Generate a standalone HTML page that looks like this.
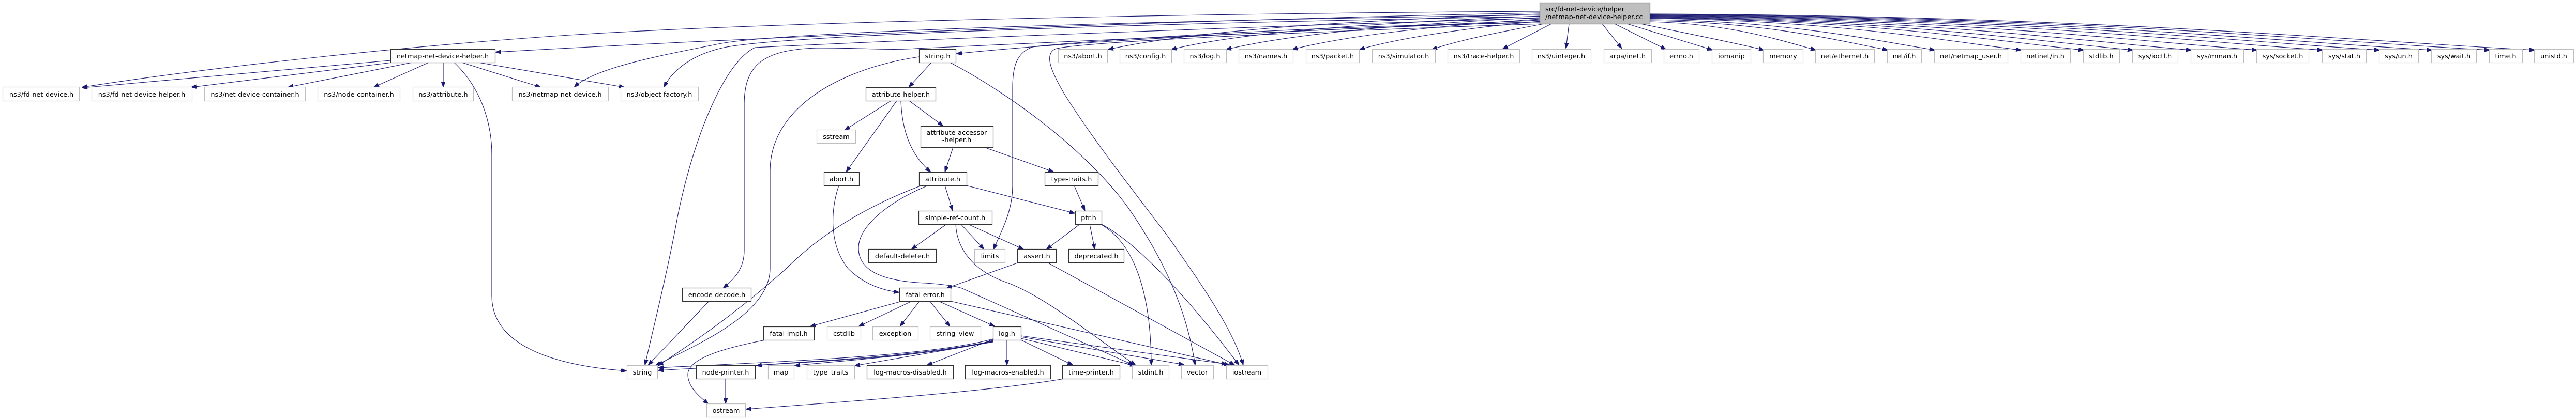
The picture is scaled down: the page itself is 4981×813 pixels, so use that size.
<!DOCTYPE html>
<html>
<head>
<meta charset="utf-8">
<style>
html,body{margin:0;padding:0;background:#fff;}
body{width:4981px;height:813px;overflow:hidden;}
svg{display:block;}
text{font-family:"DejaVu Sans","Liberation Sans",sans-serif;font-size:12.8px;fill:#000;}
.e{fill:none;stroke:#191970;stroke-width:1.1;marker-end:url(#a);}
.b{fill:#fff;stroke:#333;stroke-width:1.2;}
.g{fill:#fff;stroke:#bfbfbf;stroke-width:1.2;}
</style>
</head>
<body>
<svg width="4981" height="813" viewBox="0 0 4981 813" xmlns="http://www.w3.org/2000/svg">
<defs>
<marker id="a" viewBox="0 0 11 8" refX="11" refY="4" markerWidth="11" markerHeight="8" markerUnits="userSpaceOnUse" orient="auto">
<path d="M0,0L11,4L0,8z" fill="#191970" stroke="#191970" stroke-width="0.8"/>
</marker>
</defs>
<rect width="4981" height="813" fill="#fff"/>

<!-- ===== edges from root (left side) ===== -->
<path class="e" d="M2977,22 C2300,26 1500,42 1100,68 C800,88 420,128 158,169"/>
<path class="e" d="M2977,25 C2300,38 1500,70 958,101"/>
<path class="e" d="M2977,29 C2200,40 1500,62 1390,85 C1290,105 1150,130 1110,169"/>
<path class="e" d="M2977,32 C2200,45 1520,68 1400,92 C1340,105 1300,135 1284,169"/>
<path class="e" d="M2977,35 C2300,55 1700,80 1460,92 C1400,120 1340,270 1310,420 C1290,530 1262,640 1247,707"/>
<path class="e" d="M2977,39 C2400,62 1950,88 1770,94 C1720,98 1650,92 1580,93 C1470,96 1440,130 1439,200 L1439,485 C1439,520 1420,540 1398,558"/>
<path class="e" d="M2977,42 C2500,58 2100,78 1849,104"/>
<path class="e" d="M2977,44 C2500,50 2100,80 2000,90 C1965,100 1958,130 1958,170 L1958,360 C1958,410 1935,450 1921,483"/>
<path class="e" d="M2985,46 C2500,62 2080,82 2040,95 C2020,105 2030,135 2060,185 C2120,280 2200,380 2260,460 C2330,560 2385,640 2404,707"/>
<path class="e" d="M2977,27 C2600,40 2300,60 2142,96"/>
<path class="e" d="M2977,31 C2650,45 2400,62 2264,96"/>
<path class="e" d="M2977,34 C2700,48 2500,65 2370,96"/>
<path class="e" d="M2977,37 C2750,52 2600,70 2498,96"/>
<path class="e" d="M2977,41 C2820,56 2700,75 2628,96"/>
<path class="e" d="M2986,46 C2900,62 2820,78 2768,96"/>
<path class="e" d="M3000,46 L2905,95"/>
<path class="e" d="M3034,46 L3028,94"/>
<path class="e" d="M3098,46 L3136,94"/>
<path class="e" d="M3122,46 L3222,96"/>
<path class="e" d="M3146,46 L3312,97"/>
<path class="e" d="M3172,46 C3250,62 3340,80 3412,97"/>
<!-- right side -->
<path class="e" d="M3190,42 C3351,46 3448,80 3512,97"/>
<path class="e" d="M3190,40 C3420,43 3559,80 3651,97"/>
<path class="e" d="M3190,38 C3466,41 3632,80 3742,97"/>
<path class="e" d="M3190,36 C3549,39 3765,80 3909,97"/>
<path class="e" d="M3190,35 C3610,38 3862,80 4030,97"/>
<path class="e" d="M3190,34 C3657,37 3938,80 4125,97"/>
<path class="e" d="M3190,33 C3714,36 4028,80 4238,97"/>
<path class="e" d="M3190,32 C3777,35 4130,80 4365,97"/>
<path class="e" d="M3190,31 C3841,34 4232,80 4492,97"/>
<path class="e" d="M3190,30 C3896,33 4320,80 4602,97"/>
<path class="e" d="M3190,29 C3946,32 4400,80 4703,97"/>
<path class="e" d="M3190,28 C4002,31 4490,80 4815,97"/>
<path class="e" d="M3190,27 C4046,30 4560,80 4902,97"/>

<!-- ===== netmap-net-device-helper.h edges ===== -->
<path class="e" d="M755,117 L158,170"/>
<path class="e" d="M758,121 L369,169"/>
<path class="e" d="M797,121 L556,169"/>
<path class="e" d="M829,121 L722,169"/>
<path class="e" d="M857,121 L857,169"/>
<path class="e" d="M893,121 L1046,169"/>
<path class="e" d="M925,121 L1208,169"/>
<path class="e" d="M878,121 C925,165 951,230 951,300 L951,573 C951,680 1100,710 1212,718"/>

<!-- ===== string.h edges ===== -->
<path class="e" d="M1801,121 L1757,169"/>
<path class="e" d="M1777,110 C1640,130 1490,200 1489,330 L1489,520 C1489,610 1340,670 1267,708"/>
<path class="e" d="M1837,121 C1950,180 2100,290 2180,400 C2250,500 2295,600 2311,707"/>

<!-- attribute-helper.h -->
<path class="e" d="M1723,195 L1633,252"/>
<path class="e" d="M1734,195 L1636,333"/>
<path class="e" d="M1742,195 C1744,250 1760,300 1800,333"/>
<path class="e" d="M1758,195 L1824,244"/>

<!-- attribute-accessor-helper.h -->
<path class="e" d="M1843,285 L1827,333"/>
<path class="e" d="M1903,285 L2038,333"/>

<!-- abort.h -->
<path class="e" d="M1622,359 C1608,400 1600,470 1640,520 C1670,550 1705,562 1739,566"/>

<!-- attribute.h -->
<path class="e" d="M1782,359 C1700,390 1600,440 1520,520 C1420,610 1330,670 1272,708"/>
<path class="e" d="M1795,359 C1740,380 1660,430 1660,480 C1660,530 1720,545 1790,548 C1820,550 1845,553 1860,558 L2192,707"/>
<path class="e" d="M1827,359 L1842,408"/>
<path class="e" d="M1868,359 L2079,413"/>

<!-- type-traits.h -->
<path class="e" d="M2077,359 L2098,408"/>

<!-- simple-ref-count.h -->
<path class="e" d="M1830,434 L1762,483"/>
<path class="e" d="M1858,434 L1903,483"/>
<path class="e" d="M1872,434 L1980,483"/>
<path class="e" d="M1848,434 C1850,480 1880,525 1950,548 C2020,575 2100,640 2196,707"/>

<!-- ptr.h -->
<path class="e" d="M2088,434 L2023,483"/>
<path class="e" d="M2107,434 L2117,483"/>
<path class="e" d="M2130,435 C2190,470 2226,560 2226,707"/>
<path class="e" d="M2128,433 C2200,470 2300,580 2396,707"/>

<!-- assert.h -->
<path class="e" d="M1970,508 L1830,558"/>
<path class="e" d="M2025,508 L2388,707"/>

<!-- encode-decode.h -->
<path class="e" d="M1370,584 L1253,707"/>

<!-- fatal-error.h -->
<path class="e" d="M1744,583 L1566,632"/>
<path class="e" d="M1763,583 L1660,632"/>
<path class="e" d="M1778,583 L1740,632"/>
<path class="e" d="M1798,583 L1837,632"/>
<path class="e" d="M1815,583 L1924,632"/>
<path class="e" d="M1838,583 L2378,707"/>

<!-- fatal-impl.h -->
<path class="e" d="M1480,658 C1420,670 1330,690 1330,725 C1330,750 1355,770 1370,782"/>

<!-- log.h -->
<path class="e" d="M1920,656 C1800,690 1500,700 1272,712"/>
<path class="e" d="M1920,659 C1790,695 1480,705 1272,717"/>
<path class="e" d="M1920,660 C1750,695 1520,700 1462,708"/>
<path class="e" d="M1920,661 C1780,690 1600,700 1536,708"/>
<path class="e" d="M1920,662 L1652,708"/>
<path class="e" d="M1920,657 L1792,707"/>
<path class="e" d="M1947,658 L1947,707"/>
<path class="e" d="M1974,658 L2075,707"/>
<path class="e" d="M1974,655 L2196,708"/>
<path class="e" d="M1974,652 L2290,706"/>
<path class="e" d="M1974,650 L2373,705"/>

<!-- printers -->
<path class="e" d="M1403,733 L1403,782"/>
<path class="e" d="M2058,733 C1900,760 1600,780 1442,792"/>

<!-- ===== nodes ===== -->
<!-- root -->
<rect x="2977.5" y="5.5" width="213" height="41" fill="#bfbfbf" stroke="#404040" stroke-width="1.2"/>
<text x="2988" y="22">src/fd-net-device/helper</text>
<text x="2988" y="37">/netmap-net-device-helper.cc</text>

<!-- rank 1 -->
<rect class="b" x="755.5" y="95.5" width="202" height="26"/><text x="856" y="113" text-anchor="middle">netmap-net-device-helper.h</text>
<rect class="b" x="1777.5" y="95.5" width="71" height="26"/><text x="1813" y="113" text-anchor="middle">string.h</text>
<rect class="g" x="2046.5" y="95.5" width="95" height="26"/><text x="2094" y="113" text-anchor="middle">ns3/abort.h</text>
<rect class="g" x="2165.5" y="95.5" width="100" height="26"/><text x="2215" y="113" text-anchor="middle">ns3/config.h</text>
<rect class="g" x="2289.5" y="95.5" width="82" height="26"/><text x="2330" y="113" text-anchor="middle">ns3/log.h</text>
<rect class="g" x="2395.5" y="95.5" width="105" height="26"/><text x="2448" y="113" text-anchor="middle">ns3/names.h</text>
<rect class="g" x="2525.5" y="95.5" width="103" height="26"/><text x="2577" y="113" text-anchor="middle">ns3/packet.h</text>
<rect class="g" x="2653.5" y="95.5" width="122" height="26"/><text x="2714" y="113" text-anchor="middle">ns3/simulator.h</text>
<rect class="g" x="2799.5" y="95.5" width="139" height="26"/><text x="2869" y="113" text-anchor="middle">ns3/trace-helper.h</text>
<rect class="g" x="2962.5" y="95.5" width="114" height="26"/><text x="3019" y="113" text-anchor="middle">ns3/uinteger.h</text>
<rect class="g" x="3101.5" y="95.5" width="92" height="26"/><text x="3147" y="113" text-anchor="middle">arpa/inet.h</text>
<rect class="g" x="3217.5" y="95.5" width="68" height="26"/><text x="3251" y="113" text-anchor="middle">errno.h</text>
<rect class="g" x="3310.5" y="95.5" width="75" height="26"/><text x="3348" y="113" text-anchor="middle">iomanip</text>
<rect class="g" x="3409.5" y="95.5" width="77" height="26"/><text x="3448" y="113" text-anchor="middle">memory</text>
<rect class="g" x="3510.5" y="95.5" width="114" height="26"/><text x="3567" y="113" text-anchor="middle">net/ethernet.h</text>
<rect class="g" x="3649.5" y="95.5" width="66" height="26"/><text x="3682" y="113" text-anchor="middle">net/if.h</text>
<rect class="g" x="3740.5" y="95.5" width="142" height="26"/><text x="3811" y="113" text-anchor="middle">net/netmap_user.h</text>
<rect class="g" x="3907.5" y="95.5" width="96" height="26"/><text x="3955" y="113" text-anchor="middle">netinet/in.h</text>
<rect class="g" x="4028.5" y="95.5" width="70" height="26"/><text x="4063" y="113" text-anchor="middle">stdlib.h</text>
<rect class="g" x="4123.5" y="95.5" width="88" height="26"/><text x="4167" y="113" text-anchor="middle">sys/ioctl.h</text>
<rect class="g" x="4236.5" y="95.5" width="102" height="26"/><text x="4287" y="113" text-anchor="middle">sys/mman.h</text>
<rect class="g" x="4363.5" y="95.5" width="101" height="26"/><text x="4414" y="113" text-anchor="middle">sys/socket.h</text>
<rect class="g" x="4490.5" y="95.5" width="85" height="26"/><text x="4533" y="113" text-anchor="middle">sys/stat.h</text>
<rect class="g" x="4600.5" y="95.5" width="76" height="26"/><text x="4638" y="113" text-anchor="middle">sys/un.h</text>
<rect class="g" x="4701.5" y="95.5" width="87" height="26"/><text x="4745" y="113" text-anchor="middle">sys/wait.h</text>
<rect class="g" x="4813.5" y="95.5" width="64" height="26"/><text x="4845" y="113" text-anchor="middle">time.h</text>
<rect class="g" x="4900.5" y="95.5" width="76" height="26"/><text x="4938" y="113" text-anchor="middle">unistd.h</text>

<!-- rank 2 -->
<rect class="g" x="5.5" y="168.5" width="148" height="27"/><text x="80" y="187" text-anchor="middle">ns3/fd-net-device.h</text>
<rect class="g" x="177.5" y="168.5" width="194" height="27"/><text x="274" y="187" text-anchor="middle">ns3/fd-net-device-helper.h</text>
<rect class="g" x="395.5" y="168.5" width="195" height="27"/><text x="493" y="187" text-anchor="middle">ns3/net-device-container.h</text>
<rect class="g" x="614.5" y="168.5" width="159" height="27"/><text x="694" y="187" text-anchor="middle">ns3/node-container.h</text>
<rect class="g" x="798.5" y="168.5" width="117" height="27"/><text x="857" y="187" text-anchor="middle">ns3/attribute.h</text>
<rect class="g" x="990.5" y="168.5" width="186" height="27"/><text x="1083" y="187" text-anchor="middle">ns3/netmap-net-device.h</text>
<rect class="g" x="1200.5" y="168.5" width="150" height="27"/><text x="1275" y="187" text-anchor="middle">ns3/object-factory.h</text>
<rect class="b" x="1674.5" y="169.5" width="135" height="26"/><text x="1742" y="187" text-anchor="middle">attribute-helper.h</text>

<!-- rank 3 -->
<rect class="g" x="1579.5" y="251.5" width="75" height="26"/><text x="1617" y="269" text-anchor="middle">sstream</text>
<rect class="b" x="1780.5" y="244.5" width="140" height="41"/>
<text x="1850" y="261" text-anchor="middle">attribute-accessor</text>
<text x="1850" y="275" text-anchor="middle">-helper.h</text>

<!-- rank 4 -->
<rect class="b" x="1593.5" y="333.5" width="68" height="26"/><text x="1627" y="351" text-anchor="middle">abort.h</text>
<rect class="b" x="1777.5" y="333.5" width="92" height="26"/><text x="1823" y="351" text-anchor="middle">attribute.h</text>
<rect class="b" x="2020.5" y="333.5" width="103" height="26"/><text x="2072" y="351" text-anchor="middle">type-traits.h</text>

<!-- rank 5 -->
<rect class="b" x="1776.5" y="408.5" width="142" height="26"/><text x="1847" y="426" text-anchor="middle">simple-ref-count.h</text>
<rect class="b" x="2079.5" y="408.5" width="51" height="26"/><text x="2105" y="426" text-anchor="middle">ptr.h</text>

<!-- rank 6 -->
<rect class="b" x="1679.5" y="482.5" width="131" height="26"/><text x="1745" y="500" text-anchor="middle">default-deleter.h</text>
<rect class="g" x="1884.5" y="482.5" width="59" height="26"/><text x="1914" y="500" text-anchor="middle">limits</text>
<rect class="b" x="1967.5" y="482.5" width="75" height="26"/><text x="2005" y="500" text-anchor="middle">assert.h</text>
<rect class="b" x="2066.5" y="482.5" width="107" height="26"/><text x="2120" y="500" text-anchor="middle">deprecated.h</text>

<!-- rank 7 -->
<rect class="b" x="1319.5" y="557.5" width="133" height="26"/><text x="1386" y="575" text-anchor="middle">encode-decode.h</text>
<rect class="b" x="1739.5" y="557.5" width="99" height="26"/><text x="1789" y="575" text-anchor="middle">fatal-error.h</text>

<!-- rank 8 -->
<rect class="b" x="1476.5" y="632.5" width="98" height="26"/><text x="1525" y="650" text-anchor="middle">fatal-impl.h</text>
<rect class="g" x="1599.5" y="632.5" width="65" height="26"/><text x="1632" y="650" text-anchor="middle">cstdlib</text>
<rect class="g" x="1687.5" y="632.5" width="88" height="26"/><text x="1731" y="650" text-anchor="middle">exception</text>
<rect class="g" x="1798.5" y="632.5" width="98" height="26"/><text x="1847" y="650" text-anchor="middle">string_view</text>
<rect class="b" x="1920.5" y="632.5" width="54" height="26"/><text x="1947" y="650" text-anchor="middle">log.h</text>

<!-- rank 9 -->
<rect class="g" x="1212.5" y="707.5" width="59" height="26"/><text x="1242" y="725" text-anchor="middle">string</text>
<rect class="b" x="1346.5" y="707.5" width="114" height="26"/><text x="1403" y="725" text-anchor="middle">node-printer.h</text>
<rect class="g" x="1485.5" y="707.5" width="50" height="26"/><text x="1510" y="725" text-anchor="middle">map</text>
<rect class="g" x="1560.5" y="707.5" width="92" height="26"/><text x="1606" y="725" text-anchor="middle">type_traits</text>
<rect class="b" x="1676.5" y="707.5" width="167" height="26"/><text x="1760" y="725" text-anchor="middle">log-macros-disabled.h</text>
<rect class="b" x="1866.5" y="707.5" width="165" height="26"/><text x="1949" y="725" text-anchor="middle">log-macros-enabled.h</text>
<rect class="b" x="2054.5" y="707.5" width="111" height="26"/><text x="2110" y="725" text-anchor="middle">time-printer.h</text>
<rect class="g" x="2189.5" y="707.5" width="71" height="26"/><text x="2225" y="725" text-anchor="middle">stdint.h</text>
<rect class="g" x="2284.5" y="707.5" width="62" height="26"/><text x="2315" y="725" text-anchor="middle">vector</text>
<rect class="g" x="2371.5" y="707.5" width="80" height="26"/><text x="2411" y="725" text-anchor="middle">iostream</text>

<!-- rank 10 -->
<rect class="g" x="1366.5" y="781.5" width="75" height="26"/><text x="1404" y="799" text-anchor="middle">ostream</text>
</svg>
</body>
</html>
